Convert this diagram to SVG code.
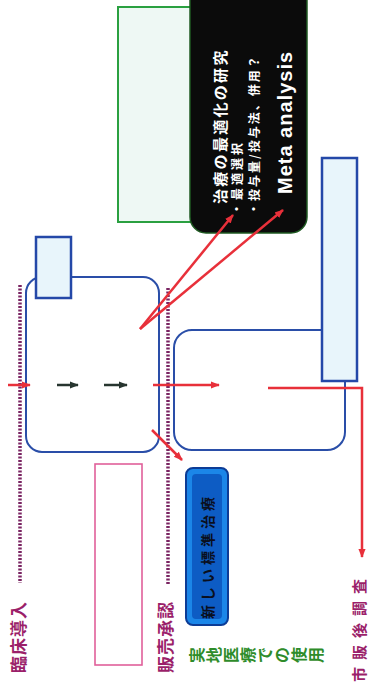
<svg xmlns="http://www.w3.org/2000/svg" width="371" height="686" viewBox="0 0 371 686">
<style>
.jp{font-family:"Noto Sans CJK JP","Noto Sans",sans-serif;font-weight:bold}
.en{font-family:"Liberation Sans",Arial,sans-serif;font-weight:bold}
.box{fill:none;stroke:#2a4ea8;stroke-width:2}
.lbox{fill:#e8f5fb;stroke:#2448a8;stroke-width:2.5}
.red{fill:none;stroke:#e8303a;stroke-width:2.5}
.dark{fill:none;stroke:#27352f;stroke-width:2.5}
.dot{fill:none;stroke:#7a2462;stroke-width:3.5;stroke-dasharray:2 1.5}
.stage{fill:#9b1f6a;font-size:17px;letter-spacing:1px}
.w{fill:#ffffff}
</style>
<defs>
<marker id="ar" viewBox="0 0 10 10" refX="9" refY="5" markerWidth="9" markerHeight="9" orient="auto" markerUnits="userSpaceOnUse"><path d="M0,1 L10,5 L0,9 z" fill="#e8303a"/></marker>
<marker id="ad" viewBox="0 0 10 10" refX="9" refY="5" markerWidth="9" markerHeight="9" orient="auto" markerUnits="userSpaceOnUse"><path d="M0,1 L10,5 L0,9 z" fill="#27352f"/></marker>
</defs>
<rect width="371" height="686" fill="#ffffff"/>

<g id="green-box"><rect x="118" y="7" width="74" height="215" fill="#eef8f4" stroke="#2aa040" stroke-width="2"/></g>

<g id="research-box">
<rect x="190" y="-16" width="117" height="249" rx="16" fill="#0b0b0b" stroke="#1f5a22" stroke-width="1.5"/>
<text class="jp w" font-size="15" letter-spacing="2.3" transform="translate(226,204) rotate(-90)">治療の最適化の研究</text>
<text class="jp w" font-size="12" letter-spacing="3" transform="translate(242,215) rotate(-90)">・最適選択</text>
<text class="jp w" font-size="12" letter-spacing="2" transform="translate(259,215) rotate(-90)">・投与量/投与法、併用？</text>
<text class="en w" font-size="20" letter-spacing="1" transform="translate(292,194) rotate(-90)">Meta analysis</text>
</g>

<g id="phase1">
<rect class="box" x="26" y="277" width="133" height="175" rx="16"/>
</g>
<g id="phase1-tab"><rect class="lbox" x="36" y="237" width="35" height="61"/></g>

<g id="phase2">
<rect class="box" x="174" y="330" width="171" height="120" rx="18"/>
</g>
<g id="phase2-tab"><rect class="lbox" x="322" y="158" width="35" height="223"/></g>

<g id="pink-box"><rect x="95" y="464" width="47" height="201" fill="#ffffff" stroke="#e0609a" stroke-width="1.6"/></g>

<g id="new-standard">
<rect x="186" y="468" width="42" height="157" rx="7" fill="#1b86e8" stroke="#0c3c96" stroke-width="2"/>
<rect x="192" y="474" width="30" height="145" rx="4" fill="#0d5cc4"/>
<text class="jp" font-size="14" letter-spacing="4" fill="#0a0f1e" transform="translate(213,619) rotate(-90)">新しい標準治療</text>
</g>

<g id="labels">
<text class="jp stage" transform="translate(25,673) rotate(-90)">臨床導入</text>
<text class="jp stage" transform="translate(172,673) rotate(-90)">販売承認</text>
<text class="jp" fill="#9b1f6a" font-size="15" letter-spacing="7" transform="translate(365,682) rotate(-90)">市販後調査</text>
<text class="jp" fill="#2e8c2a" font-size="16" letter-spacing="1" x="203" y="663" rotate="-90">実地医療での使用</text>
</g>

<g id="connectors">
<line class="dot" x1="20" y1="285" x2="20" y2="583"/>
<line class="dot" x1="168" y1="288" x2="168" y2="585"/>
<line class="red" x1="8" y1="385" x2="30" y2="385" marker-end="url(#ar)"/>
<line class="dark" x1="57" y1="385" x2="78" y2="385" marker-end="url(#ad)"/>
<line class="dark" x1="104" y1="385" x2="127" y2="385" marker-end="url(#ad)"/>
<line class="red" x1="153" y1="385" x2="219" y2="385" marker-end="url(#ar)"/>
<path class="red" d="M268,388 H362 V557" marker-end="url(#ar)"/>
<line class="red" x1="152" y1="430" x2="182" y2="460" marker-end="url(#ar)"/>
<line class="red" x1="140" y1="329" x2="233" y2="215" marker-end="url(#ar)"/>
<line class="red" x1="140" y1="329" x2="283" y2="210" marker-end="url(#ar)"/>
</g>
</svg>
